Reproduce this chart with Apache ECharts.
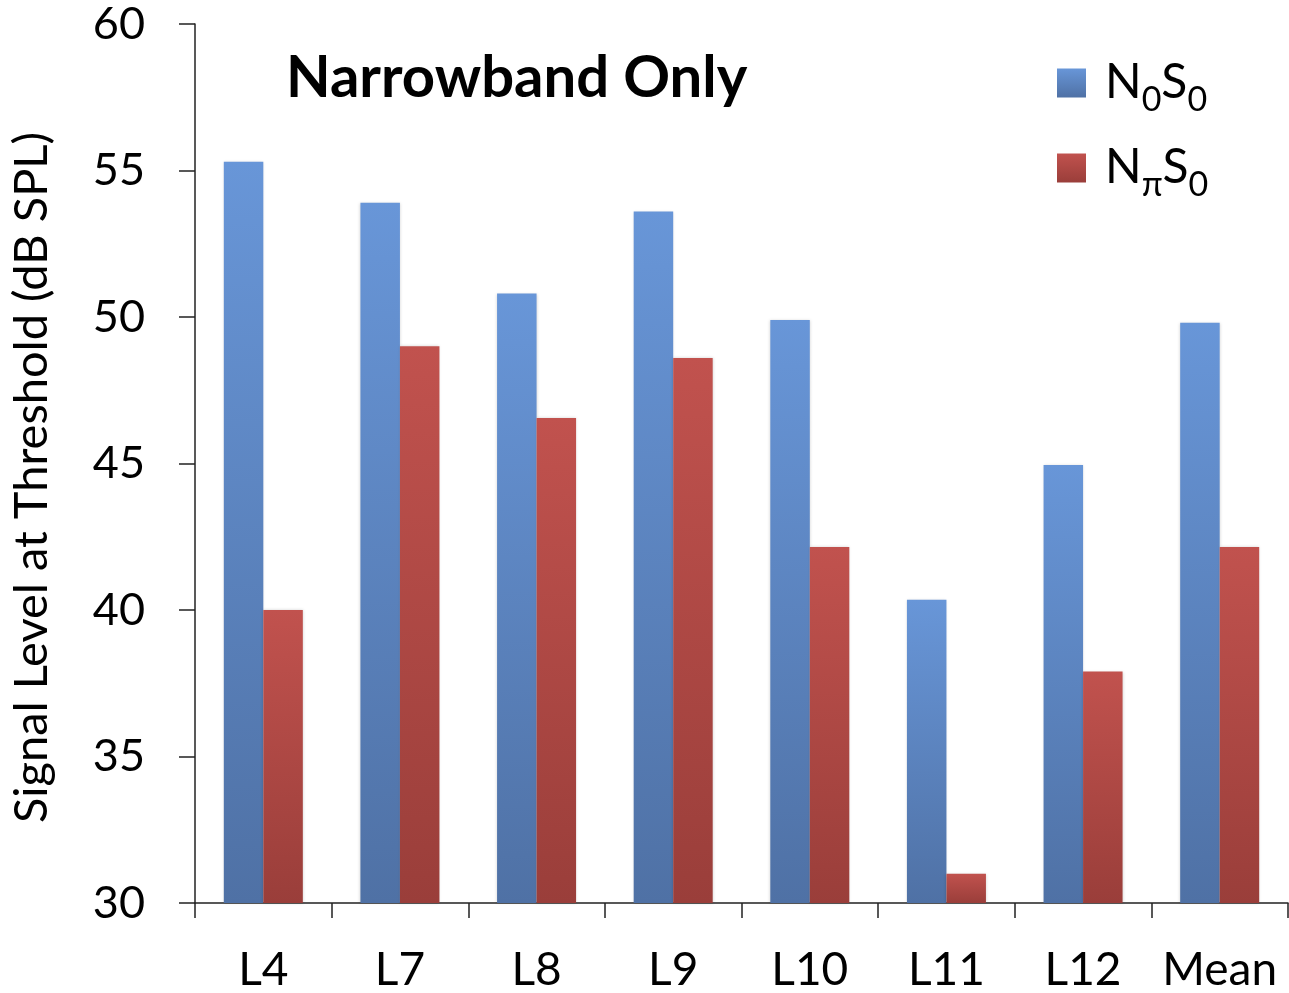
<!DOCTYPE html>
<html>
<head>
<meta charset="utf-8">
<script src="https://cdn.jsdelivr.net/npm/echarts@6/dist/echarts.min.js"></script>
<style>html,body{margin:0;padding:0;background:#fff}#c{width:1289px;height:993px}</style>
</head>
<body>
<div id="c"></div>
<script>
const categories = ['L4', 'L7', 'L8', 'L9', 'L10', 'L11', 'L12', 'Mean'];
const n0s0 = [55.3, 53.9, 50.8, 53.6, 49.9, 40.35, 44.95, 49.8];
const npis0 = [40.0, 49.0, 46.55, 48.6, 42.15, 31.0, 37.9, 42.15];
const yTicks = [30, 35, 40, 45, 50, 55, 60];

const FONT = 'Lato';
const chart = echarts.init(document.getElementById('c'));
function grad(top, bottom) {
  return new echarts.graphic.LinearGradient(0, 0, 0, 1, [
    { offset: 0, color: top }, { offset: 1, color: bottom }
  ]);
}
const blue = grad('#6896d8', '#4f71a5');
const red = grad('#c1524e', '#9a3e3a');
chart.setOption({
  animation: false,
  backgroundColor: '#fff',
  title: {
    text: 'Narrowband Only',
    left: 281, top: 44,
    textStyle: { fontFamily: FONT, fontWeight: 'bold', fontSize: 58, color: '#000' }
  },
  legend: {
    orient: 'vertical', left: 1057, top: 56, padding: 0,
    icon: 'rect',
    itemWidth: 29, itemHeight: 29, itemGap: 24,
    itemTextGap: 20,
    data: ['N0S0', 'NpiS0'],
    formatter: function (name) {
      return name === 'N0S0' ? '{f|N}{s|0}{n|S}{s|0}' : '{f|N}{s|π}{n|S}{s|0}';
    },
    textStyle: {
      fontFamily: FONT, color: '#000', lineHeight: 54,
      rich: {
        f: { fontFamily: FONT, fontSize: 48, color: '#000', lineHeight: 54, padding: [0, 0, 0, 14] },
        n: { fontFamily: FONT, fontSize: 48, color: '#000', lineHeight: 54 },
        s: { fontFamily: FONT, fontSize: 34, color: '#000', padding: [34, 0, 0, 0] }
      }
    }
  },
  grid: { left: 194, right: 1, top: 24, bottom: 88, containLabel: false },
  xAxis: {
    type: 'category', data: categories,
    axisLine: { lineStyle: { color: '#222', width: 1.5 } },
    axisTick: { show: true, interval: 0, length: 15, lineStyle: { color: '#222', width: 1.5 } },
    axisLabel: { interval: 0, fontFamily: FONT, fontSize: 46, color: '#000', margin: 44 }
  },
  yAxis: {
    type: 'value', min: 30, max: 60, interval: 5,
    name: 'Signal Level at Threshold (dB SPL)',
    nameLocation: 'middle', nameGap: 140, nameRotate: 90,
    nameTextStyle: { fontFamily: FONT, fontSize: 47, color: '#000', padding: [0, 28, 0, 0] },
    axisLine: { show: true, lineStyle: { color: '#222', width: 1.5 } },
    axisTick: { show: true, length: 16, lineStyle: { color: '#222', width: 1.5 } },
    splitLine: { show: false },
    axisLabel: {
      fontFamily: FONT, fontSize: 45, color: '#000', margin: 50,
      padding: [10, 0, 0, 0],
      formatter: v => yTicks.includes(v) ? String(v) : ''
    }
  },
  series: [
    { name: 'N0S0', type: 'bar', data: n0s0, barWidth: 39.5, barGap: '0%',
      itemStyle: { color: blue, shadowBlur: 3, shadowColor: 'rgba(0,0,0,0.18)' } },
    { name: 'NpiS0', type: 'bar', data: npis0, barWidth: 39.5, barGap: '0%',
      itemStyle: { color: red, shadowBlur: 3, shadowColor: 'rgba(0,0,0,0.18)' } }
  ]
});
</script>
</body>
</html>
